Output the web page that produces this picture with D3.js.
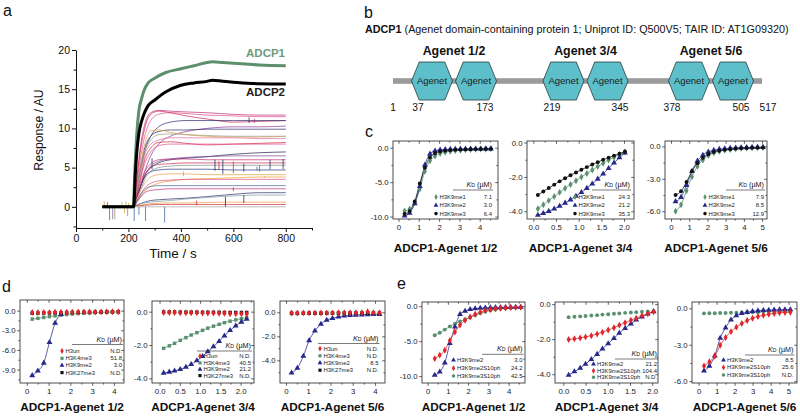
<!DOCTYPE html>
<html><head><meta charset="utf-8">
<script src="https://cdn.jsdelivr.net/npm/d3@7"></script>
<style>
body{margin:0;background:#fff}
svg{display:block;font-family:"Liberation Sans",Arial,Helvetica,sans-serif}
</style>
</head><body>
<script>
// ================= DATA =================
// ---- Panel a : sensorgrams ----
const aXTicks = [0, 200, 400, 600, 800];
const aYTicks = [0, 5, 10, 15, 20];
const traceTimes = [100, 220, 230, 245, 262, 285, 315, 360, 420, 500, 600, 700, 800];
const traceValues = [
  [0,0,3.0,7.5,10.5,12.0,12.3,12.2,12.1,12.0,11.8,11.7,11.7],
  [0,0,2.5,6.0,9.0,11.0,11.8,12.0,11.9,11.7,11.6,11.5,11.5],
  [0,0,3.0,7.0,10.0,11.8,12.2,12.0,11.6,11.2,10.8,10.9,11.0],
  [0,0,2.0,4.5,7.0,9.0,10.2,10.8,11.0,11.0,11.0,11.0,11.0],
  [0,0,1.0,2.5,4.5,6.5,8.0,9.0,9.6,10.0,10.2,10.2,10.3],
  [0,0,2.0,5.0,7.5,9.0,9.6,9.8,9.8,9.9,9.9,9.9,9.9],
  [0,0,2.0,5.0,8.0,9.7,9.8,9.5,9.2,9.0,8.9,8.9,9.0],
  [0,0,2.0,4.5,7.0,8.5,9.2,9.3,9.2,9.1,9.0,9.0,9.0],
  [0,0,1.5,4.0,6.5,8.0,8.5,8.8,8.8,8.8,8.8,8.7,8.7],
  [0,0,1.5,3.5,6.0,7.5,8.2,8.3,8.1,7.9,8.0,8.1,8.2],
  [0,0,1.5,3.5,5.5,7.0,7.8,8.0,8.0,8.0,8.0,8.0,8.0],
  [0,0,1.0,2.5,4.0,5.0,5.6,6.0,6.2,6.4,6.7,6.9,7.0],
  [0,0,1.0,2.5,4.0,5.2,5.8,6.1,6.3,6.4,6.5,6.5,6.5],
  [0,0,1.2,3.0,4.5,5.5,6.0,6.1,6.1,6.0,6.0,6.0,6.0],
  [0,0,1.0,2.5,4.0,5.0,5.4,5.5,5.6,5.6,5.6,5.6,5.6],
  [0,0,0.8,2.0,3.5,4.5,5.0,5.2,5.3,5.3,5.3,5.3,5.3],
  [0,0,1.0,2.5,3.8,4.5,4.7,4.8,4.8,4.8,4.7,4.7,4.7],
  [0,0,0.8,2.0,3.0,3.8,4.1,4.2,4.2,4.1,4.1,4.1,4.1],
  [0,0,0.5,1.2,2.0,2.6,3.0,3.3,3.5,3.6,3.7,3.8,3.8],
  [0,0,0.6,1.5,2.4,3.0,3.3,3.4,3.5,3.5,3.5,3.5,3.5],
  [0,0,0.6,1.5,2.2,2.6,2.7,2.7,2.7,2.7,2.7,2.7,2.7],
  [0,0,0.5,1.2,1.8,2.1,2.2,2.3,2.3,2.3,2.3,2.3,2.3],
  [0,0,0.2,0.4,0.6,0.8,0.9,1.0,1.1,1.3,1.6,1.8,1.8],
  [0,0,0.2,0.4,0.5,0.6,0.7,0.8,1.0,1.2,1.4,1.5,1.5],
  [0,0,0.1,0.2,0.3,0.4,0.45,0.5,0.5,0.55,0.6,0.6,0.6],
  [0,0,0.1,0.15,0.2,0.25,0.3,0.3,0.3,0.3,0.3,0.3,0.3],
  [0,0,0,0,0,0,0,0,0,0,0,0,0]
];
const traceColors = ["#c2307a","#e0508a","#d02858","#2a2d6a","#8a3a9a","#303070","#e8a040","#9aa080",
  "#e070a0","#d03040","#e05090","#25254f","#7a4a9a","#c8307a","#c83050","#8a8a8a","#2c3a7a","#e8a040",
  "#f0a030","#e0508a","#4a6aa0","#c2307a","#303070","#80a0a0","#e8a040","#d03040","#a0a0a0"];
const adcp1Times  = [100,218,225,232,240,250,260,275,300,340,400,450,500,520,560,600,700,800];
const adcp1Values = [0,0,5.0,9.4,12.3,13.8,14.9,15.8,16.4,17.1,17.6,18.0,18.4,18.5,18.4,18.3,18.1,18.0];
const adcp2Times  = [100,220,226,232,240,250,260,275,300,340,400,450,500,520,560,600,700,800];
const adcp2Values = [0,0,4.0,7.0,9.4,10.9,11.9,12.9,13.6,14.6,15.5,15.8,16.0,16.15,16.0,15.9,15.7,15.65];
const spikeTimes  = [108,120,128,140,148,175,185,190,197,200,222,240,265,338,290,410,460,530,545,560,570,600,600,640,640,660,680,690,700,740,790,720];
const spikeFrom   = [0,0,0,0,0,0,0,0,0,0,0,0,0,0,4.8,3.9,0.2,4.6,4.7,4.2,0,4.3,2.0,4.5,0.5,10.7,10.7,4.6,4.5,4.8,4.8,3.7];
const spikeTo     = [0.7,0.6,-1.7,-1.6,-1.6,0.6,-0.8,0.7,-1.2,0.5,-1.8,-1.0,-1.8,-2.0,6.2,4.5,0.8,6.0,5.8,6.0,1.3,5.8,2.5,5.5,1.5,11.4,11.2,5.1,5.3,6.0,6.1,3.9];
const spikeColors = ["#e8a040","#d03040","#4a6aa0","#8a6aa0","#8a9a80","#e8a040","#e8a040","#e8a040","#888888","#e8a040",
  "#4a6aa0","#4a6aa0","#4a6aa0","#4a6aa0","#2a2d6a","#e8a040","#d03040","#2a2d6a","#d03040","#2a2d6a","#2a2d6a","#d03040",
  "#d03040","#2a2d6a","#2a2d6a","#2a2d6a","#c2307a","#4a6aa0","#4a6aa0","#2a2d6a","#2a2d6a","#e8a040"];

// ---- Panel b : domain architecture ----
const residueLabels = ["1","37","173","219","345","378","505","517"];
const domainGroups  = ["Agenet 1/2","Agenet 3/4","Agenet 5/6"];
const domainName    = "Agenet";

// ---- Panels c, d, e : titration data ----
const c1X   = [0.3,0.55,0.8,1.05,1.3,1.55,1.8,2.05,2.3,2.55,2.8,3.05,3.3,3.55,3.8,4.05,4.3,4.55];
const c1Me1 = [-9.2,-8.9,-8.0,-6.0,-3.4,-1.9,-1.2,-0.85,-0.65,-0.5,-0.42,-0.35,-0.3,-0.26,-0.22,-0.2,-0.18,-0.16];
const c1Me2 = [-9.9,-9.5,-8.1,-5.6,-2.5,-0.9,-0.45,-0.3,-0.25,-0.22,-0.2,-0.18,-0.17,-0.16,-0.15,-0.15,-0.14,-0.14];
const c1Me3 = [-9.6,-9.2,-7.8,-5.2,-2.9,-1.4,-0.8,-0.55,-0.42,-0.35,-0.3,-0.27,-0.24,-0.22,-0.2,-0.18,-0.17,-0.16];
const c2X   = [0.1,0.22,0.34,0.46,0.58,0.7,0.82,0.94,1.06,1.18,1.3,1.42,1.54,1.66,1.78,1.9,2.02];
const c2Me1 = [-3.85,-3.62,-3.38,-3.14,-2.9,-2.66,-2.44,-2.22,-2.0,-1.8,-1.6,-1.4,-1.2,-1.02,-0.85,-0.7,-0.55];
const c2Me2 = [-4.22,-4.12,-4.0,-3.86,-3.7,-3.52,-3.33,-3.12,-2.9,-2.66,-2.4,-2.12,-1.82,-1.5,-1.18,-0.88,-0.6];
const c2Me3 = [-3.05,-2.85,-2.65,-2.45,-2.26,-2.08,-1.9,-1.74,-1.58,-1.43,-1.28,-1.14,-1.0,-0.88,-0.76,-0.65,-0.52];
const c3X   = [0.25,0.55,0.85,1.15,1.45,1.75,2.05,2.35,2.65,2.95,3.25,3.55,3.85,4.15,4.45,4.75,5.05];
const c3Me1 = [-6.0,-5.4,-4.1,-2.8,-1.85,-1.25,-0.85,-0.6,-0.45,-0.35,-0.28,-0.22,-0.18,-0.15,-0.12,-0.1,-0.1];
const c3Me2 = [-5.1,-4.7,-3.6,-2.3,-1.35,-0.8,-0.5,-0.35,-0.26,-0.2,-0.16,-0.13,-0.11,-0.1,-0.09,-0.08,-0.08];
const c3Me3 = [-4.5,-4.15,-3.3,-2.3,-1.55,-1.05,-0.72,-0.52,-0.4,-0.32,-0.26,-0.21,-0.17,-0.15,-0.13,-0.12,-0.11];

const d1X   = [0.25,0.51,0.78,1.04,1.3,1.57,1.83,2.09,2.36,2.62,2.88,3.14,3.41,3.67,3.93,4.2];
const d1Un  = [-0.3,-0.3,-0.28,-0.27,-0.26,-0.25,-0.24,-0.23,-0.22,-0.21,-0.2,-0.2,-0.19,-0.18,-0.18,-0.17];
const d1K4  = [-1.3,-1.18,-1.05,-0.92,-0.8,-0.7,-0.6,-0.52,-0.45,-0.4,-0.35,-0.3,-0.27,-0.24,-0.22,-0.2];
const d1K9  = [-9.9,-9.2,-8.0,-4.85,-1.9,-0.55];
const d1K27 = [-0.4,-0.38,-0.36,-0.35,-0.33,-0.32,-0.3,-0.28,-0.27,-0.25,-0.24,-0.23,-0.22,-0.2,-0.2,-0.18];
const d2X   = [0.1,0.24,0.37,0.51,0.65,0.78,0.92,1.06,1.19,1.33,1.47,1.6,1.74,1.88,2.02,2.15];
const d2Un  = [-0.05,-0.05,-0.05,-0.06,-0.06,-0.07,-0.07,-0.08,-0.08,-0.08,-0.09,-0.1,-0.12,-0.13,-0.13,-0.14];
const d2K4  = [-2.2,-2.05,-1.9,-1.72,-1.56,-1.4,-1.26,-1.12,-0.99,-0.87,-0.76,-0.66,-0.57,-0.49,-0.42,-0.36];
const d2K9  = [-3.68,-3.62,-3.55,-3.46,-3.33,-3.16,-2.94,-2.68,-2.4,-2.1,-1.78,-1.45,-1.12,-0.85,-0.62,-0.45];
const d2K27 = [-0.02,-0.02,-0.02,-0.03,-0.03,-0.03,-0.03,-0.04,-0.04,-0.04,-0.04,-0.05,-0.05,-0.05,-0.05,-0.05];
const d3X   = [0.25,0.51,0.78,1.04,1.3,1.57,1.83,2.09,2.36,2.62,2.88,3.14,3.41,3.67,3.93,4.2];
const d3Un  = [-0.06,-0.06,-0.05,-0.05,-0.05,-0.05,-0.05,-0.05,-0.04,-0.04,-0.04,-0.04,-0.04,0.05,-0.04,-0.04];
const d3K4  = [-0.08,-0.08,-0.08,-0.08,-0.08,-0.08,-0.08,-0.08,-0.08,-0.08,-0.08,-0.08,-0.08,-0.08,-0.08,-0.08];
const d3K9  = [-5.05,-4.65,-3.65,-2.35,-1.55,-0.98,-0.65,-0.5,-0.38,-0.3,-0.25,-0.22,-0.2,-0.18,-0.17,-0.16];
const d3K27 = [-0.09,-0.09,-0.08,-0.08,-0.08,-0.08,-0.07,-0.07,-0.07,-0.07,-0.07,-0.07,-0.07,-0.07,-0.07,-0.07];

const e1X     = [0.35,0.6,0.85,1.1,1.35,1.6,1.85,2.1,2.35,2.6,2.85,3.1,3.35,3.6,3.85,4.1,4.35,4.6];
const e1Me2   = [-9.85,-9.4,-8.1,-5.3,-2.95,-1.15,-0.7,-0.45,-0.35,-0.28,-0.24,-0.2,-0.18,-0.16,-0.15,-0.14,-0.13,-0.12];
const e1Me2ph = [-7.5,-7.0,-6.3,-4.9,-3.7,-2.7,-2.0,-1.55,-1.15,-0.85,-0.62,-0.47,-0.37,-0.3,-0.25,-0.2,-0.17,-0.15];
const e1Me3ph = [-4.15,-3.8,-3.35,-2.9,-2.5,-2.2,-1.9,-1.6,-1.3,-1.0,-0.78,-0.6,-0.47,-0.38,-0.3,-0.25,-0.2,-0.17];
const e2X     = [0.12,0.25,0.38,0.5,0.63,0.76,0.88,1.01,1.14,1.26,1.39,1.52,1.64,1.77,1.9,2.03];
const e2Me2   = [-4.05,-3.85,-3.65,-3.42,-3.15,-2.86,-2.55,-2.25,-1.95,-1.65,-1.38,-1.12,-0.9,-0.72,-0.56,-0.42];
const e2Me2ph = [-2.02,-1.98,-1.93,-1.87,-1.8,-1.7,-1.6,-1.48,-1.35,-1.2,-1.06,-0.92,-0.8,-0.66,-0.55,-0.44];
const e2Me3ph = [-0.75,-0.72,-0.7,-0.68,-0.65,-0.63,-0.6,-0.58,-0.55,-0.53,-0.5,-0.48,-0.46,-0.44,-0.42,-0.4];
const e3X     = [0.3,0.6,0.9,1.2,1.5,1.8,2.1,2.4,2.7,3.0,3.3,3.6,3.9,4.2,4.5,4.8,5.1];
const e3Me2   = [-5.15,-4.75,-3.9,-2.45,-1.6,-0.95,-0.6,-0.42,-0.32,-0.25,-0.2,-0.17,-0.15,-0.13,-0.12,-0.11,-0.1];
const e3Me2ph = [-4.75,-4.4,-3.95,-3.05,-2.4,-1.92,-1.55,-1.25,-1.0,-0.82,-0.68,-0.57,-0.48,-0.42,-0.37,-0.34,-0.32];
const e3Me3ph = [-0.42,-0.41,-0.4,-0.39,-0.38,-0.37,-0.36,-0.35,-0.34,-0.33,-0.32,-0.31,-0.3,-0.29,-0.28,-0.27,-0.26];

// K_D values (µM) as printed in legends
const c1KD = ["7.1","3.0","6.4"], c2KD = ["24.3","21.2","35.3"], c3KD = ["7.9","8.5","12.9"];
const d1KD = ["N.D.","51.8","3.0","N.D."], d2KD = ["N.D.","40.5","21.2","N.D."], d3KD = ["N.D.","N.D.","8.5","N.D."];
const e1KD = ["3.0","24.2","42.5"], e2KD = ["21.2","104.4","N.D."], e3KD = ["8.5","25.6","N.D."];
const cNames = ["H3K9me1","H3K9me2","H3K9me3"];
const dNames = ["H3un","H3K4me3","H3K9me2","H3K27me3"];
const eNames = ["H3K9me2","H3K9me2S10ph","H3K9me3S10ph"];
const titles = ["ADCP1-Agenet 1/2","ADCP1-Agenet 3/4","ADCP1-Agenet 5/6"];

// ================= STYLE / LAYOUT =================
const FONT = '"Liberation Sans",Arial,Helvetica,sans-serif';
const COL = {green:"#5a9070", blue:"#26288a", red:"#e0262a", black:"#111111"};
const svg = d3.select("body").append("svg").attr("width",800).attr("height",416);

function txt(g,x,y,s,o={}){
  const t = g.append("text").attr("x",x).attr("y",y).text(s)
    .attr("font-size",o.size||10).attr("fill",o.fill||"#111")
    .attr("text-anchor",o.anchor||"start");
  if(o.weight) t.attr("font-weight",o.weight);
  return t;
}

// Panel labels
[["a",3,16],["b",364,18],["c",365,137],["d",2,292],["e",397,289]].forEach(p=>
  txt(svg,p[1],p[2],p[0],{size:16}));

// ================= PANEL a =================
(function(){
  const g = svg.append("g");
  const x = d3.scaleLinear([0,900],[76,312]);
  const y = d3.scaleLinear([-2.7,20],[228,50]);
  const line = d3.line().x(d=>x(d[0])).y(d=>y(d[1])).curve(d3.curveMonotoneX);
  traceValues.forEach((vals,i)=>{
    g.append("path").attr("d",line(traceTimes.map((t,j)=>[t,vals[j]])))
      .attr("fill","none").attr("stroke",traceColors[i]).attr("stroke-width",0.8).attr("opacity",0.9);
  });
  spikeTimes.forEach((t,i)=>{
    g.append("line").attr("x1",x(t)).attr("x2",x(t)).attr("y1",y(spikeFrom[i])).attr("y2",y(spikeTo[i]))
      .attr("stroke",spikeColors[i]).attr("stroke-width",0.8);
  });
  g.append("path").attr("d",line(adcp1Times.map((t,j)=>[t,adcp1Values[j]])))
    .attr("fill","none").attr("stroke","#5e8f6c").attr("stroke-width",3);
  g.append("path").attr("d",line(adcp2Times.map((t,j)=>[t,adcp2Values[j]])))
    .attr("fill","none").attr("stroke","#000").attr("stroke-width",3);
  const ax = g.append("g").attr("transform",`translate(0,${y(-2.7)})`)
    .call(d3.axisBottom(x).tickValues(aXTicks).tickSize(4).tickSizeOuter(0));
  g.append("g").attr("transform",`translate(0,${y(-2.7)})`)
    .call(d3.axisBottom(x).tickValues([100,300,500,700,900]).tickSize(2.5).tickFormat("").tickSizeOuter(0))
    .select(".domain").remove();
  const ay = g.append("g").attr("transform",`translate(${x(0)},0)`)
    .call(d3.axisLeft(y).tickValues(aYTicks).tickSize(4).tickSizeOuter(0));
  g.append("g").attr("transform",`translate(${x(0)},0)`)
    .call(d3.axisLeft(y).tickValues([-2.5,2.5,7.5,12.5,17.5]).tickSize(2.5).tickFormat("").tickSizeOuter(0))
    .select(".domain").remove();
  g.selectAll(".tick text").attr("font-size",10.5).attr("font-family",FONT).attr("fill","#111");
  g.selectAll(".domain,.tick line").attr("stroke","#111").attr("stroke-width",1);
  ay.selectAll(".tick text").attr("x",-6);
  ax.selectAll(".tick text").attr("y",7);
  txt(g,173,258,"Time / s",{size:13.5,anchor:"middle"});
  txt(g,0,0,"Response / AU",{size:12.2,anchor:"middle"})
    .attr("transform","translate(43,130) rotate(-90)");
  txt(g,285,57,"ADCP1",{size:11.5,anchor:"end",weight:"bold",fill:"#6e9a7c"});
  txt(g,285,96,"ADCP2",{size:11.5,anchor:"end",weight:"bold",fill:"#222"});
})();

// ================= PANEL b =================
(function(){
  const g = svg.append("g");
  const t = g.append("text").attr("x",365).attr("y",33).attr("font-size",11).attr("fill","#111");
  t.append("tspan").attr("font-weight","bold").text("ADCP1");
  t.append("tspan").text(" (Agenet domain-containing protein 1; Uniprot ID: Q500V5; TAIR ID: AT1G09320)");
  const w = t.node().getComputedTextLength();
  const sx = 424 / w;
  t.attr("transform",`translate(365,0) scale(${sx},1) translate(-365,0)`);
  g.append("rect").attr("x",393).attr("y",78.2).attr("width",369).attr("height",5.6).attr("fill","#9b9b9b");
  const groupX = [454, 585.5, 711];
  const half = 22;
  const hex = [[-20.5,0],[-12.8,-19],[12.8,-19],[20.5,0],[12.8,19],[-12.8,19]];
  domainGroups.forEach((name,i)=>{
    txt(g,groupX[i],55,name,{size:12.4,anchor:"middle",weight:"bold"});
    [-half,half].forEach(dx=>{
      const cx = groupX[i]+dx, cy = 81;
      g.append("polygon").attr("points",hex.map(p=>[cx+p[0],cy+p[1]].join(",")).join(" "))
        .attr("fill","#5cbfca").attr("stroke","#2a3a3c").attr("stroke-width",0.8);
      txt(g,cx,84.3,domainName,{size:9.5,anchor:"middle",fill:"#1a1a1a"});
    });
  });
  const labelX = [393,418,485,552,620,672,741,768];
  residueLabels.forEach((s,i)=>txt(g,labelX[i],111,s,{size:10.2,anchor:"middle"}));
})();

// ================= SMALL TITRATION PLOTS =================
const symbols = {diamond:d3.symbolDiamond, triangle:d3.symbolTriangle, circle:d3.symbolCircle, square:d3.symbolSquare};
function fmt1(v){ return v.toFixed(1); }
function fmt0(v){ return String(v); }

function smallPlot(cfg, series, legendOrder){
  const g = svg.append("g");
  const x = d3.scaleLinear(cfg.xDom,[cfg.l,cfg.r]);
  const y = d3.scaleLinear(cfg.yDom,[cfg.b,cfg.t]);
  const clipId = "clip"+Math.random().toString(36).slice(2);
  g.append("clipPath").attr("id",clipId).append("rect")
    .attr("x",cfg.l).attr("y",cfg.t).attr("width",cfg.r-cfg.l).attr("height",cfg.b-cfg.t);
  const major = (axis,vals,size,fmt)=>axis.tickValues(vals).tickSize(size).tickSizeOuter(0).tickFormat(fmt);
  const addAxis = (axisFn,scale,vals,size,fmt,tr)=>{
    const a = g.append("g").attr("transform",tr).call(major(axisFn(scale),vals,size,fmt));
    a.select(".domain").remove();
    a.selectAll(".tick line").attr("stroke","#222").attr("stroke-width",0.7);
    a.selectAll(".tick text").attr("font-size",7.8).attr("font-family",FONT).attr("fill","#222");
    return a;
  };
  const bx = addAxis(d3.axisBottom,x,cfg.xTicks,2.8,cfg.xFmt,`translate(0,${cfg.b})`);
  bx.selectAll(".tick text").attr("y",5);
  addAxis(d3.axisBottom,x,cfg.xMinor,1.6,"",`translate(0,${cfg.b})`);
  addAxis(d3.axisBottom,x,cfg.xTicks,2.8,"",`translate(0,${cfg.t})`);
  addAxis(d3.axisBottom,x,cfg.xMinor,1.6,"",`translate(0,${cfg.t})`);
  const ly = addAxis(d3.axisLeft,y,cfg.yTicks,2.8,fmt1,`translate(${cfg.l},0)`);
  ly.selectAll(".tick text").attr("x",-4.5);
  addAxis(d3.axisLeft,y,cfg.yMinor,1.6,"",`translate(${cfg.l},0)`);
  addAxis(d3.axisLeft,y,cfg.yTicks,2.8,"",`translate(${cfg.r},0)`).selectAll(".tick line").attr("x2",-2.8);
  addAxis(d3.axisLeft,y,cfg.yMinor,1.6,"",`translate(${cfg.r},0)`).selectAll(".tick line").attr("x2",-1.6);
  g.append("rect").attr("x",cfg.l).attr("y",cfg.t).attr("width",cfg.r-cfg.l).attr("height",cfg.b-cfg.t)
    .attr("fill","none").attr("stroke","#222").attr("stroke-width",0.8);
  const plot = g.append("g").attr("clip-path",`url(#${clipId})`);
  const line = d3.line().x(d=>x(d[0])).y(d=>y(d[1])).curve(d3.curveMonotoneX);
  series.forEach(s=>{
    const pts = s.ys.map((v,i)=>[s.xs[i],v]);
    if(s.fit) plot.append("path").attr("d",line(pts)).attr("fill","none")
      .attr("stroke",s.color).attr("stroke-width",0.9).attr("opacity",0.85);
  });
  series.forEach(s=>{
    const sym = d3.symbol().type(symbols[s.shape]).size(s.shape==="triangle"?15:(s.shape==="diamond"?14:12));
    plot.selectAll(null).data(s.ys.map((v,i)=>[s.xs[i],v])).join("path")
      .attr("d",sym).attr("transform",d=>`translate(${x(d[0])},${y(d[1])})`).attr("fill",s.color);
  });
  const L = cfg.leg;
  const hdr = g.append("text").attr("x",L.vx).attr("y",L.hy).attr("text-anchor","end")
    .attr("font-size",7.2).attr("fill","#111");
  hdr.append("tspan").attr("font-style","italic").text("K");
  hdr.append("tspan").attr("font-size",5.2).text("D");
  hdr.append("tspan").text(" (\u00b5M)");
  g.append("line").attr("x1",L.ux).attr("x2",L.vx+1).attr("y1",L.hy+3).attr("y2",L.hy+3)
    .attr("stroke","#222").attr("stroke-width",0.6);
  legendOrder.forEach((s,i)=>{
    const yy = L.ry[i];
    const sym = d3.symbol().type(symbols[s.shape]).size(10);
    g.append("path").attr("d",sym).attr("transform",`translate(${L.mx},${yy-2})`).attr("fill",s.color);
    txt(g,L.mx+3.5,yy,s.name,{size:5.9,fill:"#222"});
    txt(g,L.vx,yy,s.kd,{size:5.9,fill:"#222",anchor:"end"});
  });
  txt(g,(cfg.l+cfg.r)/2,cfg.titleY,cfg.title,{size:11.8,anchor:"middle",weight:"bold"});
}

const ticks05 = [0,0.5,1,1.5,2];
// ---- Row c ----
smallPlot({l:393,r:498,t:141,b:219,xDom:[-0.27,4.9],yDom:[-10.35,0.98],xTicks:[0,1,2,3,4],xMinor:[0.5,1.5,2.5,3.5,4.5],
  xFmt:fmt0,yTicks:[0,-5,-10],yMinor:[-2.5,-7.5],title:titles[0],titleY:252,
  leg:{mx:436,vx:492,ux:453,hy:187,ry:[199,207.3,215.6]}},
  [{xs:c1X,ys:c1Me1,color:COL.green,shape:"diamond",fit:true},
   {xs:c1X,ys:c1Me2,color:COL.blue,shape:"triangle",fit:true},
   {xs:c1X,ys:c1Me3,color:COL.black,shape:"circle",fit:true}],
  [{name:cNames[0],kd:c1KD[0],color:COL.green,shape:"diamond"},
   {name:cNames[1],kd:c1KD[1],color:COL.blue,shape:"triangle"},
   {name:cNames[2],kd:c1KD[2],color:COL.black,shape:"circle"}]);
smallPlot({l:527,r:634,t:141,b:219,xDom:[-0.14,2.22],yDom:[-4.45,0.09],xTicks:ticks05,xMinor:[0.25,0.75,1.25,1.75],
  xFmt:fmt1,yTicks:[0,-2,-4],yMinor:[-1,-3],title:titles[1],titleY:252,
  leg:{mx:575,vx:630,ux:592,hy:187,ry:[199,207.3,215.6]}},
  [{xs:c2X,ys:c2Me1,color:COL.green,shape:"diamond",fit:true},
   {xs:c2X,ys:c2Me2,color:COL.blue,shape:"triangle",fit:true},
   {xs:c2X,ys:c2Me3,color:COL.black,shape:"circle",fit:true}],
  [{name:cNames[0],kd:c2KD[0],color:COL.green,shape:"diamond"},
   {name:cNames[1],kd:c2KD[1],color:COL.blue,shape:"triangle"},
   {name:cNames[2],kd:c2KD[2],color:COL.black,shape:"circle"}]);
smallPlot({l:665,r:767,t:141,b:219,xDom:[-0.33,5.27],yDom:[-6.72,0.5],xTicks:[0,1,2,3,4,5],xMinor:[0.5,1.5,2.5,3.5,4.5],
  xFmt:fmt0,yTicks:[0,-3,-6],yMinor:[-1.5,-4.5],title:titles[2],titleY:252,
  leg:{mx:705,vx:764,ux:726,hy:187,ry:[199,207.3,215.6]}},
  [{xs:c3X,ys:c3Me1,color:COL.green,shape:"diamond",fit:true},
   {xs:c3X,ys:c3Me2,color:COL.blue,shape:"triangle",fit:true},
   {xs:c3X,ys:c3Me3,color:COL.black,shape:"circle",fit:true}],
  [{name:cNames[0],kd:c3KD[0],color:COL.green,shape:"diamond"},
   {name:cNames[1],kd:c3KD[1],color:COL.blue,shape:"triangle"},
   {name:cNames[2],kd:c3KD[2],color:COL.black,shape:"circle"}]);

// ---- Row d ----
function dLegend(kd){ return [
  {name:dNames[0],kd:kd[0],color:COL.red,shape:"diamond"},
  {name:dNames[1],kd:kd[1],color:COL.green,shape:"square"},
  {name:dNames[2],kd:kd[2],color:COL.blue,shape:"triangle"},
  {name:dNames[3],kd:kd[3],color:COL.black,shape:"square"}]; }
smallPlot({l:20,r:124,t:300,b:383,xDom:[-0.31,4.46],yDom:[-11.05,1.62],xTicks:[0,1,2,3,4],xMinor:[0.5,1.5,2.5,3.5],
  xFmt:fmt0,yTicks:[0,-3,-6,-9],yMinor:[-1.5,-4.5,-7.5,-10.5],title:titles[0],titleY:411,
  leg:{mx:62,vx:122,ux:72,hy:341.5,ry:[353,360.3,367.3,374.6]}},
  [{xs:d1X,ys:d1K4,color:COL.green,shape:"square",fit:true},
   {xs:d1X,ys:d1K9,color:COL.blue,shape:"triangle",fit:true},
   {xs:d1X,ys:d1K27,color:COL.black,shape:"square",fit:false},
   {xs:d1X,ys:d1Un,color:COL.red,shape:"diamond",fit:false}], dLegend(d1KD));
smallPlot({l:152,r:254,t:301,b:383,xDom:[-0.187,2.33],yDom:[-4.28,0.64],xTicks:ticks05,xMinor:[0.25,0.75,1.25,1.75,2.25],
  xFmt:fmt1,yTicks:[0,-2,-4],yMinor:[-1,-3],title:titles[1],titleY:411,
  leg:{mx:200,vx:251,ux:197,hy:348,ry:[358.3,364.9,371.3,377.6]}},
  [{xs:d2X,ys:d2K4,color:COL.green,shape:"square",fit:true},
   {xs:d2X,ys:d2K9,color:COL.blue,shape:"triangle",fit:true},
   {xs:d2X,ys:d2K27,color:COL.black,shape:"square",fit:false},
   {xs:d2X,ys:d2Un,color:COL.red,shape:"diamond",fit:false}], dLegend(d2KD));
smallPlot({l:280,r:385,t:301,b:383,xDom:[-0.27,4.45],yDom:[-5.89,0.94],xTicks:[0,1,2,3,4],xMinor:[0.5,1.5,2.5,3.5],
  xFmt:fmt0,yTicks:[0,-2,-4],yMinor:[-1,-3,-5],title:titles[2],titleY:411,
  leg:{mx:320,vx:378.5,ux:318,hy:340.5,ry:[350.6,357.8,364.9,372.2]}},
  [{xs:d3X,ys:d3K4,color:COL.green,shape:"square",fit:false},
   {xs:d3X,ys:d3K9,color:COL.blue,shape:"triangle",fit:true},
   {xs:d3X,ys:d3K27,color:COL.black,shape:"square",fit:false},
   {xs:d3X,ys:d3Un,color:COL.red,shape:"diamond",fit:false}], dLegend(d3KD));

// ---- Row e ----
function eLegend(kd){ return [
  {name:eNames[0],kd:kd[0],color:COL.blue,shape:"triangle"},
  {name:eNames[1],kd:kd[1],color:COL.red,shape:"diamond"},
  {name:eNames[2],kd:kd[2],color:COL.green,shape:"circle"}]; }
smallPlot({l:422,r:525,t:302,b:383,xDom:[-0.277,4.81],yDom:[-10.99,0.6],xTicks:[0,1,2,3,4],xMinor:[0.5,1.5,2.5,3.5,4.5],
  xFmt:fmt0,yTicks:[0,-5,-10],yMinor:[-2.5,-7.5],title:titles[0],titleY:411,
  leg:{mx:453.5,vx:522.5,ux:482,hy:351.3,ry:[362,370.2,378]}},
  [{xs:e1X,ys:e1Me3ph,color:COL.green,shape:"circle",fit:true},
   {xs:e1X,ys:e1Me2,color:COL.blue,shape:"triangle",fit:true},
   {xs:e1X,ys:e1Me2ph,color:COL.red,shape:"diamond",fit:true}], eLegend(e1KD));
smallPlot({l:555,r:658,t:302,b:383,xDom:[-0.187,2.13],yDom:[-4.5,0.12],xTicks:ticks05,xMinor:[0.25,0.75,1.25,1.75],
  xFmt:fmt1,yTicks:[0,-2,-4],yMinor:[-1,-3],title:titles[1],titleY:411,
  leg:{mx:593.5,vx:657,ux:615,hy:356,ry:[366,372.7,379.3]}},
  [{xs:e2X,ys:e2Me3ph,color:COL.green,shape:"circle",fit:false},
   {xs:e2X,ys:e2Me2,color:COL.blue,shape:"triangle",fit:true},
   {xs:e2X,ys:e2Me2ph,color:COL.red,shape:"diamond",fit:true}], eLegend(e2KD));
smallPlot({l:692,r:797,t:302,b:383,xDom:[-0.367,5.47],yDom:[-6.15,0.52],xTicks:[0,1,2,3,4,5],xMinor:[0.5,1.5,2.5,3.5,4.5],
  xFmt:fmt0,yTicks:[0,-3,-6],yMinor:[-1.5,-4.5],title:titles[2],titleY:411,
  leg:{mx:723.5,vx:793.5,ux:745,hy:352,ry:[362,369.4,377]}},
  [{xs:e3X,ys:e3Me3ph,color:COL.green,shape:"circle",fit:false},
   {xs:e3X,ys:e3Me2,color:COL.blue,shape:"triangle",fit:true},
   {xs:e3X,ys:e3Me2ph,color:COL.red,shape:"diamond",fit:true}], eLegend(e3KD));
</script>
</body></html>
